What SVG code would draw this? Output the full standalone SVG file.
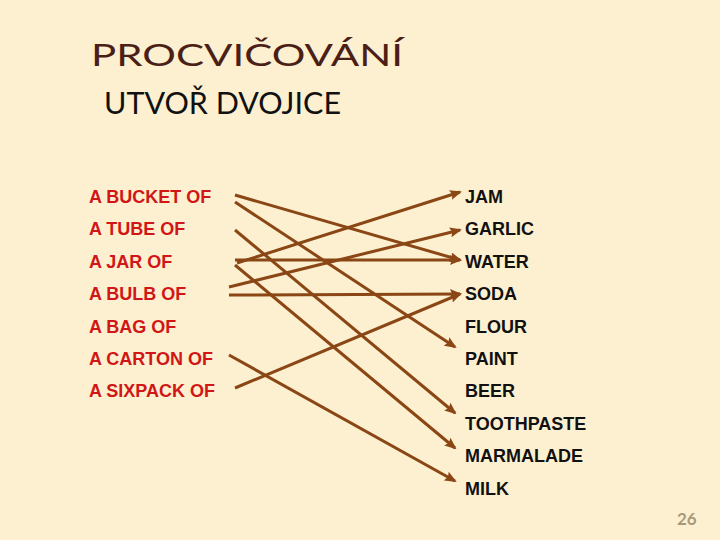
<svg xmlns="http://www.w3.org/2000/svg" width="720" height="540" viewBox="0 0 720 540">
<style>
.title{font-family:Lato,"Open Sans","DejaVu Sans",sans-serif;font-size:30px;fill:#4a2016}
.sub{font-family:Lato,"Open Sans","DejaVu Sans",sans-serif;font-size:30px;fill:#111}
.lab{font-family:"Liberation Sans",Arial,sans-serif;font-size:18px;font-weight:bold}
.left{fill:#d01616}
.right{fill:#111}
.conn line{stroke:#8a4614;stroke-width:3;fill:none}
.num{font-family:Lato,"Open Sans",sans-serif;font-size:17px;font-weight:bold;fill:#a8987a}
</style>
<defs>
<marker id="ah" markerUnits="userSpaceOnUse" markerWidth="12" markerHeight="10" refX="10" refY="5" orient="auto">
<path d="M0,0 L12,5 L0,10 L2,5 z" fill="#8a4614"/>
</marker>
</defs>
<rect width="720" height="540" fill="#fdf0d0"/>
<text class="title" x="91" y="66" textLength="312" lengthAdjust="spacingAndGlyphs">PROCVIČOVÁNÍ</text>
<text class="sub" x="104" y="114" textLength="237" lengthAdjust="spacingAndGlyphs">UTVOŘ DVOJICE</text>

<g id="left-items" class="lab left">
<g id="l-bucket"><text x="89" y="203">A BUCKET OF</text></g>
<g id="l-tube"><text x="89" y="235.4">A TUBE OF</text></g>
<g id="l-jar"><text x="89" y="267.8">A JAR OF</text></g>
<g id="l-bulb"><text x="89" y="300.2">A BULB OF</text></g>
<g id="l-bag"><text x="89" y="332.6">A BAG OF</text></g>
<g id="l-carton"><text x="89" y="365">A CARTON OF</text></g>
<g id="l-sixpack"><text x="89" y="397.4">A SIXPACK OF</text></g>
</g>

<g id="right-items" class="lab right">
<g id="r-jam"><text x="465" y="203">JAM</text></g>
<g id="r-garlic"><text x="465" y="235.4">GARLIC</text></g>
<g id="r-water"><text x="465" y="267.8">WATER</text></g>
<g id="r-soda"><text x="465" y="300.2">SODA</text></g>
<g id="r-flour"><text x="465" y="332.6">FLOUR</text></g>
<g id="r-paint"><text x="465" y="365">PAINT</text></g>
<g id="r-beer"><text x="465" y="397.4">BEER</text></g>
<g id="r-toothpaste"><text x="465" y="429.8">TOOTHPASTE</text></g>
<g id="r-marmalade"><text x="465" y="462.2">MARMALADE</text></g>
<g id="r-milk"><text x="465" y="494.6">MILK</text></g>
</g>

<g id="connectors" class="conn">
<line x1="235" y1="195" x2="460" y2="260" marker-end="url(#ah)"/>
<line x1="235" y1="202" x2="455" y2="347" marker-end="url(#ah)"/>
<line x1="235" y1="230" x2="455" y2="413" marker-end="url(#ah)"/>
<line x1="235" y1="260" x2="460" y2="260" marker-end="url(#ah)"/>
<line x1="237" y1="263" x2="460" y2="192" marker-end="url(#ah)"/>
<line x1="235" y1="265" x2="455" y2="448" marker-end="url(#ah)"/>
<line x1="229" y1="287" x2="460" y2="230" marker-end="url(#ah)"/>
<line x1="229" y1="295" x2="460" y2="294" marker-end="url(#ah)"/>
<line x1="229" y1="355" x2="455" y2="481" marker-end="url(#ah)"/>
<line x1="235" y1="388" x2="460" y2="294" marker-end="url(#ah)"/>
</g>

<text class="num" x="677" y="525">26</text>
</svg>
